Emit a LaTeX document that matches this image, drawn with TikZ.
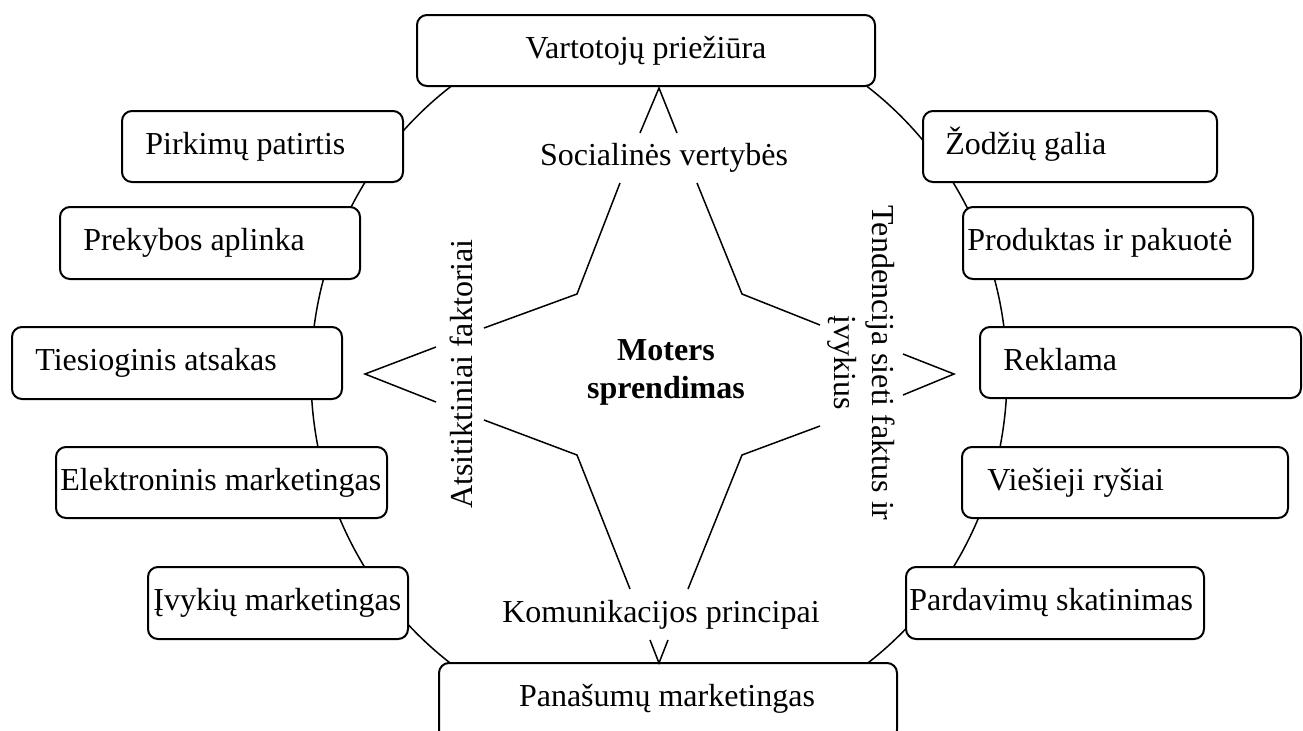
\documentclass[tikz,border=0pt]{standalone}
\usepackage{fontspec}
\setmainfont{Liberation Serif}
\usetikzlibrary{shapes.geometric,fit}
\tikzset{
  boxst/.style={draw, line width=1pt, rounded corners=5pt, fill=white, inner sep=0pt},
  txt/.style={inner sep=0pt, font=\fontsize{16}{19}\selectfont},
  ringst/.style={draw, ellipse, line width=0.75pt, inner sep=0pt, minimum width=348pt, minimum height=360pt},
  starln/.style={line width=0.75pt, line join=miter},
}
\begin{document}
\begin{tikzpicture}[x=0.5pt,y=-0.5pt]
\useasboundingbox (0,0) rectangle (1303,730);
% ring behind the boxes
\node[ringst] (ring) at (659,375) {};
% boxes
\node[boxst, fit={(417,15)(875,86)}] (b1) {};
\node[boxst, fit={(122,111)(403,182)}] (b2) {};
\node[boxst, fit={(60,207)(360,279)}] (b3) {};
\node[boxst, fit={(12,327)(342,399)}] (b4) {};
\node[boxst, fit={(56,447)(387,518)}] (b5) {};
\node[boxst, fit={(148,567)(408,639)}] (b6) {};
\node[boxst, fit={(439,663)(897,740)}] (b7) {};
\node[boxst, fit={(923,111)(1217,182)}] (b8) {};
\node[boxst, fit={(963,207)(1253,279)}] (b9) {};
\node[boxst, fit={(980,327)(1301,398)}] (b10) {};
\node[boxst, fit={(962,447)(1288,518)}] (b11) {};
\node[boxst, fit={(906,567)(1204,639)}] (b12) {};
% box texts
\node[txt, anchor=base] (t1) at (646,58) {Vartotojų priežiūra};
\node[txt, anchor=base west] (t2) at (145,154) {Pirkimų patirtis};
\node[txt, anchor=base west] (t3) at (83,250) {Prekybos aplinka};
\node[txt, anchor=base west] (t4) at (35,370) {Tiesioginis atsakas};
\node[txt, anchor=base west] (t5) at (60,490) {Elektroninis marketingas};
\node[txt, anchor=base west] (t6) at (153,610) {Įvykių marketingas};
\node[txt, anchor=base] (t7) at (667,706) {Panašumų marketingas};
\node[txt, anchor=base west] (t8) at (945,154) {Žodžių galia};
\node[txt, anchor=base west] (t9) at (967,250) {Produktas ir pakuotė};
\node[txt, anchor=base west] (t10) at (1003,370) {Reklama};
\node[txt, anchor=base west] (t11) at (987,490) {Viešieji ryšiai};
\node[txt, anchor=base west] (t12) at (909,610) {Pardavimų skatinimas};
% star
\draw[starln] (640,133) -- (659,88) -- (677,133);
\draw[starln] (620,183) -- (577,294) -- (484,328);
\draw[starln] (436,347) -- (365,374) -- (436,402);
\draw[starln] (484,420) -- (577,455) -- (630,589);
\draw[starln] (697,183) -- (742,294) -- (820,325);
\draw[starln] (903,354) -- (954,374) -- (903,395);
\draw[starln] (820,426) -- (742,455) -- (688,589);
\draw[starln] (650,640) -- (659,663) -- (668,640);
% inner labels
\node[txt, anchor=base] (soc) at (664,165) {Socialinės vertybės};
\node[txt, anchor=base] (kom) at (661,622) {Komunikacijos principai};
\node[txt, align=center, font=\fontsize{16}{19}\selectfont\bfseries] (mot) at (666,372) {Moters\\sprendimas};
\node[txt, anchor=base, rotate=90] (ats) at (472,374) {Atsitiktiniai faktoriai};
\node[txt, align=center, rotate=-90] (ten) at (861,363) {Tendencija sieti faktus ir\\įvykius};
\end{tikzpicture}
\end{document}
